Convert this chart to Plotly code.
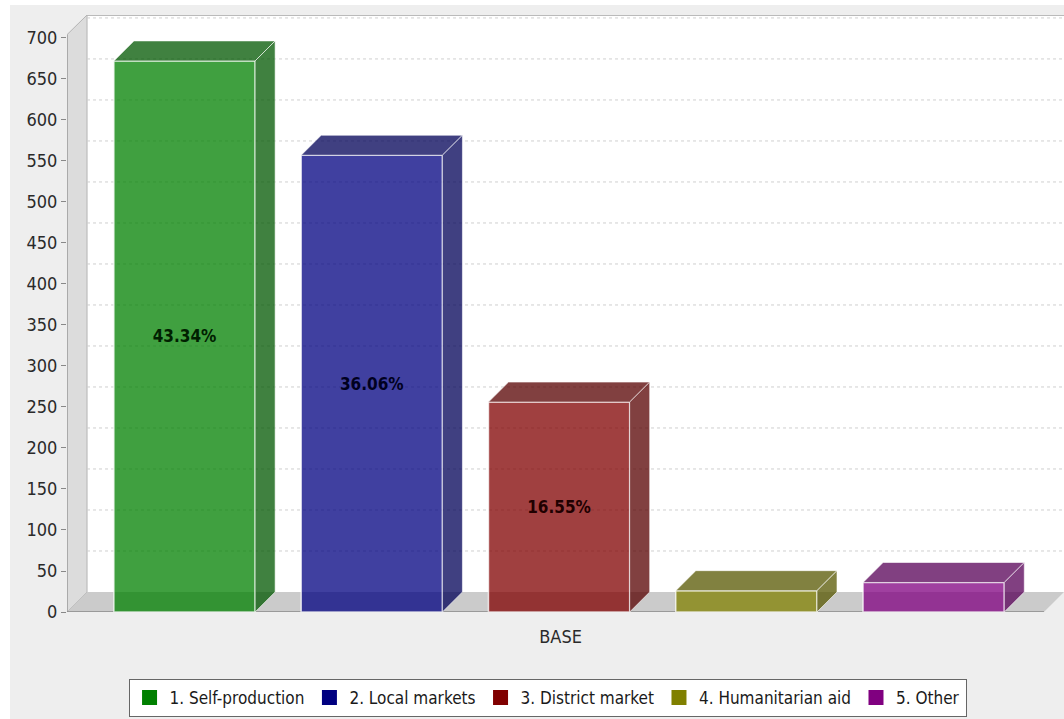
import plotly.graph_objects as go

# Source categories, counts and stated shares
categories = ["1. Self-production", "2. Local markets", "3. District market", "4. Humanitarian aid", "5. Other"]
counts = [672, 557, 256, 26, 36]
share_labels = ["43.34%", "36.06%", "16.55%", "", ""]
x_tick_label = "BASE"
y_ticks = list(range(0, 701, 50))

# Solid series colours; faces are tinted from these
base_rgb = [(0, 128, 0), (0, 0, 128), (128, 0, 0), (128, 128, 0), (128, 0, 128)]

FONT = "DejaVu Sans Condensed"
BAR_WIDTH = 0.754
DEPTH_X = 0.107     # extrusion, slot units
DEPTH_Y = 24.4      # extrusion, count units
X_MIN, X_MAX = -0.6273, 4.696
Y_MAX = 728
Y_AXIS_TOP = 704
FLOOR_RIGHT = X_MAX - DEPTH_X

positions = list(range(len(categories)))


def rgba(rgb, alpha, factor=1.0):
    r, g, b = (round(c * factor) for c in rgb)
    return f"rgba({r},{g},{b},{alpha})"


def polygon(points):
    return "M" + " L".join(f"{x},{y}" for x, y in points) + " Z"


fig = go.Figure()

# Front faces, with the shares printed in the middle
for pos, name, count, label, rgb in zip(positions, categories, counts, share_labels, base_rgb):
    fig.add_trace(go.Bar(
        x=[pos], y=[count], width=BAR_WIDTH, showlegend=False,
        marker=dict(color=rgba(rgb, 0.75), line=dict(color="rgba(255,255,255,0.75)", width=1.5)),
        text=[label], textposition="inside", insidetextanchor="middle", textangle=0,
        constraintext="none",
        textfont=dict(family=FONT, size=17, weight="bold", color=rgba(rgb, 1, 0.25)),
        hoverinfo="skip",
    ))

# Extruded top and side faces derived from each count
for pos, count, rgb in zip(positions, counts, base_rgb):
    left = pos - BAR_WIDTH / 2
    right = pos + BAR_WIDTH / 2
    top = [left, left + DEPTH_X, right + DEPTH_X, right, left]
    top_y = [count, count + DEPTH_Y, count + DEPTH_Y, count, count]
    side = [right, right + DEPTH_X, right + DEPTH_X, right, right]
    side_y = [count, count + DEPTH_Y, DEPTH_Y, 0, count]
    for xs, ys in ((top, top_y), (side, side_y)):
        fig.add_trace(go.Scatter(
            x=xs, y=ys, mode="lines", fill="toself", showlegend=False, hoverinfo="skip",
            fillcolor=rgba(rgb, 0.75, 0.68),
            line=dict(color="rgba(255,255,255,0.6)", width=1),
        ))

# Legend entries keep the solid series colours
for name, rgb in zip(categories, base_rgb):
    fig.add_trace(go.Scatter(
        x=[None], y=[None], mode="markers", name=name,
        marker=dict(symbol="square", size=15, color=rgba(rgb, 1)),
    ))

shapes = [
    # White margin along the page's left and top edges
    dict(type="rect", xref="paper", yref="paper", layer="below",
         x0=-67 / 997, x1=-57 / 997, y0=-107 / 597, y1=1 + 15 / 597,
         fillcolor="#ffffff", line_width=0),
    dict(type="rect", xref="paper", yref="paper", layer="below",
         x0=-67 / 997, x1=1, y0=1 + 10 / 597, y1=1 + 15 / 597,
         fillcolor="#ffffff", line_width=0),
    # Back wall of the chart box
    dict(type="rect", layer="below", x0=X_MIN + DEPTH_X, x1=X_MAX, y0=DEPTH_Y, y1=Y_MAX,
         fillcolor="#ffffff", line_width=0),
    # Left wall of the chart box
    dict(type="path", layer="below", fillcolor="#dcdcdc", line=dict(color="#b4b4b4", width=1),
         path=polygon([(X_MIN, 0), (X_MIN + DEPTH_X, DEPTH_Y), (X_MIN + DEPTH_X, Y_MAX),
                       (X_MIN, Y_AXIS_TOP)])),
    # Floor of the chart box
    dict(type="path", layer="below", fillcolor="#cbcbcb", line_width=0,
         path=polygon([(X_MIN, 0), (X_MIN + DEPTH_X, DEPTH_Y), (X_MAX, DEPTH_Y), (FLOOR_RIGHT, 0)])),
    # Back wall top edge, value axis and category axis
    dict(type="line", layer="below", x0=X_MIN + DEPTH_X, x1=X_MAX, y0=Y_MAX - 0.5, y1=Y_MAX - 0.5,
         line=dict(color="#b4b4b4", width=1)),
    dict(type="line", layer="below", x0=X_MIN, x1=X_MIN, y0=0, y1=Y_AXIS_TOP,
         line=dict(color="#a0a0a0", width=1.5)),
    dict(type="line", layer="below", x0=X_MIN, x1=FLOOR_RIGHT, y0=0, y1=0,
         line=dict(color="#8a8a8a", width=1.5)),
]

# Dotted gridlines on the back wall
for tick in y_ticks[1:]:
    shapes.append(dict(type="line", layer="below", x0=X_MIN + DEPTH_X, x1=X_MAX,
                       y0=tick + DEPTH_Y, y1=tick + DEPTH_Y,
                       line=dict(color="#cfcfcf", width=1, dash="dot")))

tick_font = dict(family=FONT, size=18, color="#2a2a2a")

fig.update_layout(
    width=1064, height=719, autosize=False,
    margin=dict(l=67, r=0, t=15, b=107, autoexpand=False),
    paper_bgcolor="#eeeeee", plot_bgcolor="#eeeeee",
    barmode="overlay", shapes=shapes,
    font=dict(family=FONT, size=18, color="#2a2a2a"),
    xaxis=dict(range=[X_MIN, X_MAX], tickmode="array", tickvals=[2.008], ticktext=[x_tick_label],
               showgrid=False, zeroline=False, showline=False, ticks="outside", ticklen=8,
               tickcolor="rgba(0,0,0,0)", automargin=False, tickfont=tick_font),
    yaxis=dict(range=[0, Y_MAX], tickmode="array", tickvals=y_ticks,
               showgrid=False, zeroline=False, showline=False, automargin=False,
               ticks="outside", ticklen=5, tickcolor="#888888", tickwidth=1,
               tickfont=tick_font),
    legend=dict(orientation="h", xanchor="center", yanchor="top", x=0.482, y=-0.112,
                bgcolor="#ffffff", bordercolor="#666666", borderwidth=1,
                font=dict(family=FONT, size=17, color="#1a1a1a"),
                itemclick=False, itemdoubleclick=False),
)

fig.write_html("out.html")
